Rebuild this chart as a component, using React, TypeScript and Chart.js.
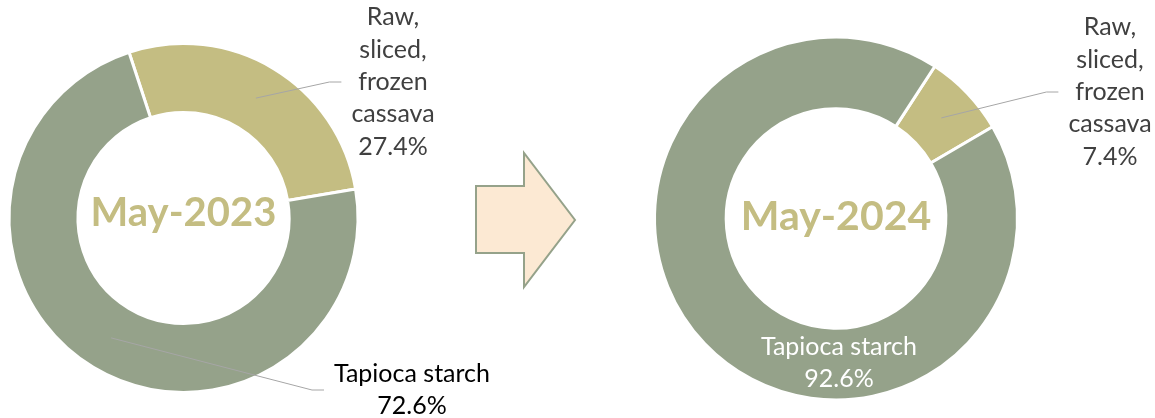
import React, { useEffect, useRef } from "react";
import { Chart, registerables } from "chart.js";

Chart.register(...registerables);

// ---- data ----
const categories = ["Raw, sliced, frozen cassava", "Tapioca starch"];
const periods = ["May-2023", "May-2024"];
const share2023 = [27.4, 72.6];
const share2024 = [7.4, 92.6];
const sliceColors = ["#C4BD82", "#95A28A"];

// ---- layout ----
const W = 1155;
const H = 418;
const LABEL_FONT = "25px Lato";
const LINE_H = 32.3;

type LabelCfg = { cx: number; cy: number; color: string; wrap: boolean; leader: boolean };
type DonutCfg = {
  title: string;
  values: number[];
  rotation: number;
  radius: number;
  padding: { left: number; right: number; top: number; bottom: number };
  titleSize: number;
  titleDy: number;
  labels: LabelCfg[];
};

const donuts: DonutCfg[] = [
  {
    title: periods[0],
    values: share2023,
    rotation: -18.2,
    radius: 174.5,
    padding: { left: 0, right: 788, top: 18, bottom: 0 },
    titleSize: 40,
    titleDy: 8,
    labels: [
      { cx: 393, cy: 82, color: "#404040", wrap: true, leader: true },
      { cx: 412, cy: 390, color: "#000000", wrap: false, leader: true },
    ],
  },
  {
    title: periods[1],
    values: share2024,
    rotation: 33,
    radius: 181.5,
    padding: { left: 656, right: 139, top: 39, bottom: 20 },
    titleSize: 41,
    titleDy: 11,
    labels: [
      { cx: 1110, cy: 92, color: "#404040", wrap: true, leader: true },
      { cx: 839, cy: 363, color: "#FFFFFF", wrap: false, leader: false },
    ],
  },
];

function makePlugin(cfg: DonutCfg) {
  return {
    id: "donutLabels",
    afterDatasetsDraw(chart: any) {
      const ctx = chart.ctx as CanvasRenderingContext2D;
      const meta = chart.getDatasetMeta(0);
      const area = chart.chartArea;
      const cx = (area.left + area.right) / 2;
      const cy = (area.top + area.bottom) / 2;
      ctx.save();
      // center title
      ctx.font = `bold ${cfg.titleSize}px Lato`;
      ctx.fillStyle = sliceColors[0];
      ctx.textAlign = "center";
      ctx.textBaseline = "alphabetic";
      ctx.fillText(cfg.title, cx, cy + cfg.titleDy);

      // slice labels
      ctx.font = LABEL_FONT;
      cfg.labels.forEach((lab, i) => {
        const name = categories[i];
        const lines = (lab.wrap ? name.split(" ") : [name]).concat(
          cfg.values[i].toFixed(1) + "%"
        );
        const maxW = Math.max(...lines.map((l) => ctx.measureText(l).width));
        if (lab.leader) {
          const arc = meta.data[i];
          const p = arc.tooltipPosition(false);
          const endX = lab.cx - maxW / 2 - 10;
          const elbowX = endX - 12;
          ctx.strokeStyle = "#A6A6A6";
          ctx.lineWidth = 1;
          ctx.beginPath();
          ctx.moveTo(p.x, p.y);
          ctx.lineTo(elbowX, lab.cy);
          ctx.lineTo(endX, lab.cy);
          ctx.stroke();
        }
        ctx.fillStyle = lab.color;
        ctx.textAlign = "center";
        ctx.textBaseline = "middle";
        lines.forEach((l, k) => {
          const y = lab.cy + (k - (lines.length - 1) / 2) * LINE_H;
          ctx.fillText(l, lab.cx, y);
        });
      });
      ctx.restore();
    },
  };
}

function Donut({ cfg }: { cfg: DonutCfg }) {
  const ref = useRef<HTMLCanvasElement>(null);
  useEffect(() => {
    const chart = new Chart(ref.current as HTMLCanvasElement, {
      type: "doughnut",
      data: {
        labels: categories,
        datasets: [
          {
            data: cfg.values,
            backgroundColor: sliceColors,
            borderColor: "#FFFFFF",
            borderWidth: 3,
            hoverOffset: 0,
          },
        ],
      },
      options: {
        responsive: false,
        animation: false,
        devicePixelRatio: 1,
        rotation: cfg.rotation,
        cutout: "60.5%",
        radius: cfg.radius,
        layout: { padding: cfg.padding },
        events: [],
        plugins: { legend: { display: false }, tooltip: { enabled: false } },
      } as any,
      plugins: [makePlugin(cfg)],
    });
    return () => chart.destroy();
  }, [cfg]);
  return (
    <canvas
      ref={ref}
      width={W}
      height={H}
      style={{ position: "absolute", left: 0, top: 0, width: W, height: H }}
    />
  );
}

export default function App() {
  return (
    <div style={{ position: "absolute", left: 0, top: 0, width: W, height: H, background: "#FFFFFF" }}>
      <svg width={W} height={H} style={{ position: "absolute", left: 0, top: 0 }}>
        <polygon
          points="476,186 524,186 524,153 575,220 524,287 524,253 476,253"
          fill="#FCE9D3"
          stroke="#95A28A"
          strokeWidth={2}
        />
      </svg>
      {donuts.map((d) => (
        <Donut key={d.title} cfg={d} />
      ))}
    </div>
  );
}
